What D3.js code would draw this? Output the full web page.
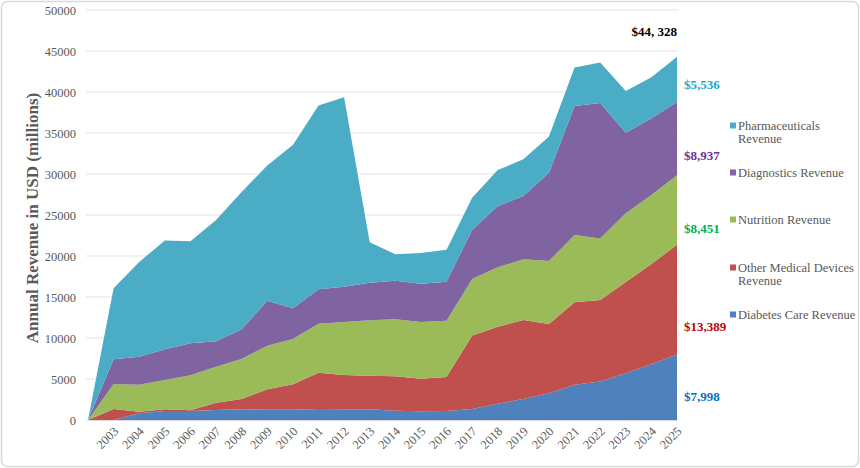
<!DOCTYPE html>
<html><head><meta charset="utf-8">
<script src="https://cdn.jsdelivr.net/npm/d3@7"></script>
<style>
body{margin:0;background:#fff;}
svg{display:block;}
</style></head>
<body><svg id="c" width="860" height="468"></svg>
<script>
const years = ["","2003","2004","2005","2006","2007","2008","2009","2010","2011","2012","2013","2014","2015","2016","2017","2018","2019","2020","2021","2022","2023","2024","2025"];
const diabetes = [0,0,830,1100,1100,1220,1300,1240,1260,1340,1300,1300,1140,1060,1100,1340,1990,2560,3250,4310,4710,5690,6790,7998];
const otherDevices = [0,1340,180,200,80,890,1260,2520,3090,4430,4190,4110,4190,3980,4140,8950,9390,9640,8460,10040,9920,11140,12230,13389];
const nutrition = [0,3050,3300,3580,4270,4390,4880,5300,5530,5980,6460,6740,6950,6910,6870,6910,7240,7390,7680,8210,7500,8370,8420,8451];
const diagnostics = [0,3010,3410,3740,3900,3090,3620,5490,3740,4190,4310,4600,4710,4680,4760,5970,7480,7730,10770,15730,16530,9840,9350,8937];
const pharma = [0,8660,11540,13280,12450,14800,16740,16500,19920,22410,23090,4920,3210,3740,3880,3940,4390,4470,4400,4690,4940,5080,5010,5536];
const yTicks = [0,5000,10000,15000,20000,25000,30000,35000,40000,45000,50000];
const seriesNames = ["Diabetes Care Revenue","Other Medical Devices Revenue","Nutrition Revenue","Diagnostics Revenue","Pharmaceuticals Revenue"];
const seriesKeys = ["diabetes","otherDevices","nutrition","diagnostics","pharma"];
const colors = ["#4f81bd","#c0504d","#9bbb59","#8064a2","#4bacc6"];
const endLabels = ["$7,998","$13,389","$8,451","$8,937","$5,536"];
const endColors = ["#0070c0","#c00000","#00b050","#7030a0","#17a9cc"];
const totalLabel = "$44, 328";

const table = years.map((y,i)=>({year:y, diabetes:diabetes[i], otherDevices:otherDevices[i], nutrition:nutrition[i], diagnostics:diagnostics[i], pharma:pharma[i]}));

const svg = d3.select("#c");
const font = "'Liberation Serif', 'DejaVu Serif', serif";
svg.append("rect").attr("x",1.5).attr("y",1.5).attr("width",857).attr("height",465).attr("rx",6)
  .attr("fill","#fff").attr("stroke","#d9d9d9").attr("stroke-width",1.5);

const x = d3.scalePoint().domain(years).range([88,677]);
const y = d3.scaleLinear().domain([0,50000]).range([420,10]);

// gridlines
svg.append("g").selectAll("line").data(yTicks).join("line")
  .attr("x1",86).attr("x2",678).attr("y1",d=>y(d)).attr("y2",d=>y(d))
  .attr("stroke","#e3e3e3").attr("stroke-width",1);

const stack = d3.stack().keys(seriesKeys);
const layers = stack(table);
const area = d3.area().x(d=>x(d.data.year)).y0(d=>y(d[0])).y1(d=>y(d[1]));
svg.append("g").selectAll("path").data(layers).join("path")
  .attr("d",area).attr("fill",(d,i)=>colors[i]);

// y axis
const yAxis = d3.axisLeft(y).tickValues(yTicks).tickSize(0).tickPadding(10).tickFormat(d3.format("d"));
const ya = svg.append("g").attr("transform","translate(86,0)").call(yAxis);
ya.select(".domain").remove();
ya.selectAll("text").attr("font-family",font).attr("font-size",12.5).attr("fill","#595959");

// x axis
const xAxis = d3.axisBottom(x).tickSize(0).tickPadding(0);
const xa = svg.append("g").attr("transform","translate(0,420)").call(xAxis);
xa.select(".domain").attr("stroke","#d9d9d9");
xa.selectAll("text").attr("font-family",font).attr("font-size",12.5).attr("fill","#595959")
  .attr("text-anchor","end").attr("dy",null)
  .attr("transform","translate(5,12) rotate(-45)");

// y title
svg.append("text").attr("transform","translate(38,218) rotate(-90)").attr("text-anchor","middle")
  .attr("font-family",font).attr("font-size",17).attr("font-weight","bold").attr("fill","#595959")
  .text("Annual Revenue in USD (millions)");

// end labels
const last = layers.map(l=>l[l.length-1]);
const endY = [396,326,228,155,84];
svg.append("g").selectAll("text").data(endLabels).join("text")
  .attr("x",684).attr("y",(d,i)=>endY[i]).attr("dy","0.35em")
  .attr("font-family",font).attr("font-size",13).attr("font-weight","bold")
  .attr("fill",(d,i)=>endColors[i]).text(d=>d);
svg.append("text").attr("x",677).attr("y",31).attr("dy","0.35em").attr("text-anchor","end")
  .attr("font-family",font).attr("font-size",13).attr("font-weight","bold").attr("fill","#000").text(totalLabel);

// legend
const legendItems = [
  {i:4, lines:["Pharmaceuticals","Revenue"], y:126},
  {i:3, lines:["Diagnostics Revenue"], y:173},
  {i:2, lines:["Nutrition Revenue"], y:220},
  {i:1, lines:["Other Medical Devices","Revenue"], y:268},
  {i:0, lines:["Diabetes Care Revenue"], y:315}
];
const lg = svg.append("g");
legendItems.forEach(it=>{
  lg.append("rect").attr("x",730).attr("y",it.y-3.5).attr("width",6).attr("height",6).attr("fill",colors[it.i]);
  it.lines.forEach((t,k)=>{
    lg.append("text").attr("x",738).attr("y",it.y+k*12.5).attr("dy","0.35em")
      .attr("font-family",font).attr("font-size",12.5).attr("fill","#595959").text(t);
  });
});
</script></body></html>
